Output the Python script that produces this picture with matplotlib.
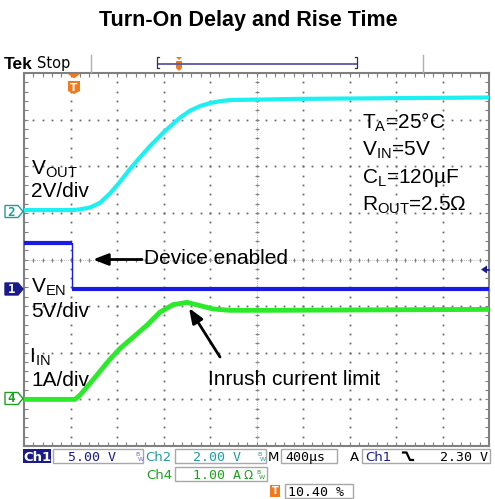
"""
Turn-On Delay and Rise Time - scope capture redrawn with matplotlib.
Traces are read off the Tek screenshot; y is plotted in screen divisions.
"""

import numpy as np
import matplotlib.pyplot as plt
from matplotlib.patches import Polygon, Rectangle
from matplotlib.ticker import MultipleLocator

plt.rcParams["font.family"] = ["Liberation Sans", "DejaVu Sans"]

# Scope settings
TIME_DIV = 400.0  # us/div
TRIG_POS = 1.04  # trigger position in divisions from the left (10.40 %)
VOUT_DIV, VOUT_GND = 2.0, 1.04
VEN_DIV, VEN_GND = 5.0, -0.64
IIN_DIV, IIN_GND = 1.0, -3.0

# Ch2: VOUT (V) vs time (us)
t_vout = [-416, 0, 65, 151, 237, 323, 409, 495, 581, 667, 796, 925, 1011, 1097, 1183, 1270, 1355, 1958, 3584]
vout = [0.04, 0.04, 0.07, 0.15, 0.35, 0.75, 1.25, 1.80, 2.30, 2.78, 3.43, 4.00, 4.30, 4.50, 4.63, 4.71, 4.76, 4.81, 4.87]

# Ch1: VEN (V)
t_en = [-416, 0, 0, 3584]
ven = [4.95, 4.95, 0.0, 0.0]

# Ch4: IIN (A)
t_iin = [-416, 22, 65, 151, 237, 323, 409, 521, 641, 753, 865, 986, 1098, 1209, 1355, 1700, 3584]
iin = [0.0, 0.0, 0.09, 0.34, 0.60, 0.86, 1.09, 1.33, 1.59, 1.87, 2.03, 2.08, 2.01, 1.94, 1.91, 1.91, 1.93]

CYAN = "#1cf0f0"
BLUE = "#1a1ae6"
GREEN = "#2aea2a"
GRID = "#808080"
ORANGE = "#f07a1e"
NAVY = "#1a1a8c"
TEAL = "#1f9ca0"
CH4G = "#1fa01f"


def to_div(t, v, vdiv, gnd):
    x = TRIG_POS + np.asarray(t, dtype=float) / TIME_DIV
    y = gnd + np.asarray(v, dtype=float) / vdiv
    return x, y


def draw_graticule(ax):
    ax.set_xlim(0, 10)
    ax.set_ylim(-4, 4)
    for s in ax.spines.values():
        s.set_color(GRID)
        s.set_linewidth(1.5)
    for axis in (ax.xaxis, ax.yaxis):
        axis.set_major_locator(MultipleLocator(1))
        axis.set_minor_locator(MultipleLocator(0.2))
    ax.tick_params(which="both", direction="in", length=3, width=0.8, color=GRID,
                   top=True, right=True, labelbottom=False, labelleft=False)

    fine_x = np.arange(0, 10.01, 0.2)
    fine_y = np.arange(-4, 4.01, 0.2)
    dot = dict(ls="none", marker="s", ms=1.3, mec="none", mfc="#6a6a6a", zorder=1)
    for k in range(1, 10):
        ax.plot(np.full_like(fine_y, k), fine_y, **dot)
    for k in range(-3, 4):
        ax.plot(fine_x, np.full_like(fine_x, k), **dot)

    # centre cross with small ticks
    ax.plot([5, 5], [-4, 4], color="#a8a8a8", lw=0.6, ls=(0, (1, 1.5)), zorder=1)
    ax.plot([0, 10], [0, 0], color="#a8a8a8", lw=0.6, ls=(0, (1, 1.5)), zorder=1)
    ax.plot(fine_x, np.zeros_like(fine_x), ls="none", marker="|", ms=3.5, mew=0.7,
            color=GRID, zorder=1)
    ax.plot(np.full_like(fine_y, 5), fine_y, ls="none", marker="_", ms=3.5, mew=0.7,
            color=GRID, zorder=1)


def ch_marker(ov, y, label, edge, face, txt):
    pts = [(5, y - 6), (18, y - 6), (23, y), (18, y + 6), (5, y + 6)]
    ov.add_patch(Polygon(pts, closed=True, fc=face, ec=edge, lw=1))
    ov.text(11.5, y + 0.5, label, color=txt, fontsize=9, fontweight="bold",
            family="DejaVu Sans Mono", ha="center", va="center")


def status_box(ov, x0, x1, y0, y1, face="white"):
    ov.add_patch(Rectangle((x0, y0), x1 - x0, y1 - y0, fc=face, ec="#a8a8a8", lw=1))


def bw(ov, x, y, color):
    ov.text(x, y, "B", color=color, fontsize=4.5, ha="left", va="baseline", family="DejaVu Sans")
    ov.text(x + 2.5, y + 5, "W", color=color, fontsize=4.5, ha="left", va="baseline", family="DejaVu Sans")


def main():
    fig = plt.figure(figsize=(4.95, 4.99), dpi=100)

    ax = fig.add_axes([24 / 495, 53 / 499, 465 / 495, 373 / 499])
    draw_graticule(ax)

    x, y = to_div(t_vout, vout, VOUT_DIV, VOUT_GND)
    ax.plot(x, y, color=CYAN, lw=3, solid_capstyle="butt", solid_joinstyle="round", zorder=3)

    x, y = to_div(t_en, ven, VEN_DIV, VEN_GND)
    ax.plot(x, y, color=BLUE, lw=1, zorder=3)
    ax.plot(x[:2], y[:2], color=BLUE, lw=3, solid_capstyle="butt", zorder=3)
    ax.plot(x[2:], y[2:], color=BLUE, lw=3, solid_capstyle="butt", zorder=3)

    x, y = to_div(t_iin, iin, IIN_DIV, IIN_GND)
    ax.plot(x, y, color=GREEN, lw=3.5, solid_capstyle="butt", solid_joinstyle="round", zorder=3)

    # overlay in pixel coordinates for the scope furniture and annotations
    ov = fig.add_axes([0, 0, 1, 1])
    ov.set_xlim(0, 495)
    ov.set_ylim(499, 0)
    ov.axis("off")

    ov.text(248, 20, "Turn-On Delay and Rise Time", fontsize=15.5, fontweight="bold",
            ha="center", va="center")

    # header
    ov.text(4, 69, "Tek", fontsize=12.5, fontweight="bold", va="baseline")
    ov.text(37, 68, "Stop", fontsize=10.5, family="DejaVu Sans", va="baseline")
    ov.plot([90.7, 90.7], [55, 72], color="#b0b0b0", lw=1)
    ov.plot([423, 423], [55, 72], color="#b0b0b0", lw=1)
    ov.plot([158, 357], [63.5, 63.5], color="#5858a8", lw=1.3)
    ov.plot([159, 157, 157, 159], [57, 57, 68, 68], color="#333333", lw=0.9)
    ov.plot([355, 357, 357, 355], [57, 57, 68, 68], color="#333333", lw=0.9)
    ov.add_patch(Polygon([(176, 57), (182, 57), (179, 60)], fc=ORANGE, ec="none"))
    ov.add_patch(Polygon([(176, 61), (182, 61), (182, 68), (179, 71), (176, 68)], fc=ORANGE, ec="none"))

    # trigger position marker
    ov.add_patch(Polygon([(68, 74), (80, 74), (74, 78.5)], fc=ORANGE, ec="none"))
    ov.add_patch(Polygon([(68, 81), (80, 81), (80, 91), (74, 94), (68, 91)], fc=ORANGE, ec="none"))
    ov.text(74, 87.5, "T", color="white", fontsize=7.5, fontweight="bold",
            ha="center", va="center", family="DejaVu Sans")

    # trigger level marker
    ov.add_patch(Polygon([(481, 269.5), (487, 265.5), (487, 273.5)], fc=NAVY, ec="none"))
    ov.plot([486, 489], [269.5, 269.5], color=NAVY, lw=1.2)

    # channel ground markers
    ch_marker(ov, 211.5, "2", TEAL, "white", TEAL)
    ch_marker(ov, 289, "1", NAVY, NAVY, "white")
    ch_marker(ov, 398.5, "4", CH4G, "white", CH4G)

    # channel labels
    fs = 15
    ov.text(31, 174, r"V$_\mathregular{OUT}$", fontsize=fs, va="baseline")
    ov.text(31, 197, "2V/div", fontsize=fs, va="baseline")
    ov.text(31, 292, r"V$_\mathregular{EN}$", fontsize=fs, va="baseline")
    ov.text(31, 317, "5V/div", fontsize=fs, va="baseline")
    ov.text(29, 362, r"I$_\mathregular{IN}$", fontsize=fs, va="baseline")
    ov.text(31, 386, "1A/div", fontsize=fs, va="baseline")

    # conditions
    ov.text(362, 128, r"T$_\mathregular{A}$=25°C", fontsize=fs, va="baseline")
    ov.text(362, 155, r"V$_\mathregular{IN}$=5V", fontsize=fs, va="baseline")
    ov.text(362, 183, r"C$_\mathregular{L}$=120µF", fontsize=fs, va="baseline")
    ov.text(362, 210, r"R$_\mathregular{OUT}$=2.5Ω", fontsize=fs, va="baseline")

    # annotations
    ov.text(144, 264, "Device enabled", fontsize=fs, va="baseline")
    ov.annotate("", xy=(93, 259.5), xytext=(142, 259.5),
                arrowprops=dict(arrowstyle="-|>,head_length=0.9,head_width=0.35",
                                color="black", lw=2, shrinkA=0, shrinkB=0))
    ov.text(208, 385, "Inrush current limit", fontsize=fs, va="baseline")
    ov.annotate("", xy=(189, 308), xytext=(220, 357),
                arrowprops=dict(arrowstyle="-|>,head_length=0.9,head_width=0.35",
                                color="black", lw=2, shrinkA=0, shrinkB=0))

    # status bar
    mono = "DejaVu Sans Mono"
    sfs = 9.5
    r1, r2, r3 = 461, 479, 496
    ov.add_patch(Rectangle((23, 449), 28, 14, fc=NAVY, ec="none"))
    ov.text(37, r1, "Ch1", color="white", fontsize=sfs, fontweight="bold",
            family="DejaVu Sans", ha="center", va="baseline")
    status_box(ov, 53, 143, 449, 463)
    ov.text(68, r1, "5.00 V", color=NAVY, fontsize=sfs, family=mono, va="baseline")
    bw(ov, 135, 456, "#6a6ad0")
    ov.text(145, r1, "Ch2", color=TEAL, fontsize=sfs, family="DejaVu Sans", va="baseline")
    status_box(ov, 175, 266, 449, 463)
    ov.text(193, r1, "2.00 V", color=TEAL, fontsize=sfs, family=mono, va="baseline")
    bw(ov, 257, 456, TEAL)
    ov.text(268, r1, "M", color="black", fontsize=sfs, family="DejaVu Sans", va="baseline")
    status_box(ov, 281, 337, 449, 463)
    ov.text(285, r1, "400µs", color="black", fontsize=sfs, family=mono, va="baseline")
    ov.text(350, r1, "A", color="black", fontsize=sfs, family="DejaVu Sans", va="baseline")
    status_box(ov, 362, 490, 449, 463)
    ov.text(365, r1, "Ch1", color=NAVY, fontsize=sfs, family="DejaVu Sans", va="baseline")
    ov.plot([403, 406.5, 410, 413], [452.5, 452.5, 460, 460], color="black", lw=1.6)
    ov.text(488, r1, "2.30 V", color="black", fontsize=sfs, family=mono, ha="right", va="baseline")

    ov.text(146, r2, "Ch4", color=CH4G, fontsize=sfs, family="DejaVu Sans", va="baseline")
    status_box(ov, 175, 267, 467, 481)
    ov.text(193, r2, "1.00 A", color=CH4G, fontsize=sfs, family=mono, va="baseline")
    ov.text(243, r2, "Ω", color=CH4G, fontsize=sfs - 1, family="DejaVu Sans", va="baseline")
    bw(ov, 256, 474, CH4G)

    ov.add_patch(Rectangle((270, 485), 10, 12, fc=ORANGE, ec="none"))
    ov.text(275, 491.5, "T", color="white", fontsize=7, fontweight="bold",
            family="DejaVu Sans", ha="center", va="center")
    status_box(ov, 285, 353, 484, 498)
    ov.text(288, r3, "10.40 %", color="black", fontsize=sfs, family=mono, va="baseline")

    fig.savefig("out.png", dpi=100)


if __name__ == "__main__":
    main()
